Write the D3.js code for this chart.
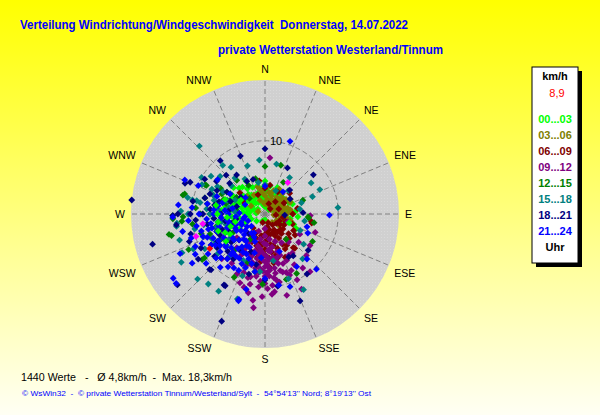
<!DOCTYPE html>
<html>
<head>
<meta charset="utf-8">
<script src="https://cdn.jsdelivr.net/npm/d3@7"></script>
<style>
  body { margin: 0; }
  svg { display: block; font-family: Arial, "Liberation Sans", sans-serif; }
</style>
</head>
<body>
<div id="chart"></div>
<script>
// texts
const title = "Verteilung Windrichtung/Windgeschwindigkeit  Donnerstag, 14.07.2022";
const subtitle = "private Wetterstation Westerland/Tinnum";
const statsLine = "1440 Werte   -   \u00D8 4,8km/h  -  Max. 18,3km/h";
const footer = "\u00A9 WsWin32  -  \u00A9 private Wetterstation Tinnum/Westerland/Sylt  -  54\u00B054'13'' Nord; 8\u00B019'13'' Ost";

// scale / categories
const maxSpeed = 18.3;
const ringValues = [10];
const directions = ["N","NNE","NE","ENE","E","ESE","SE","SSE","S","SSW","SW","WSW","W","WNW","NW","NNW"];
const timeBins = ["00...03","03...06","06...09","09...12","12...15","15...18","18...21","21...24"];
const binColors = ["#00ff00","#808000","#800000","#800080","#008000","#008080","#000080","#0000ff"];
const currentSpeedLabel = "8,9";

// values [direction deg, speed km/h]
const pts0003 = [[0,1.0],[15,1.5],[30,2.0],[350,2.2],[330,1.8],[310,2.5],[290,3.0],[280,4.0],[270,5.0],[300,4.5],[320,3.5],[340,3.0],[5,3.2],[20,2.8],[45,2.5],[60,3.0],[75,2.0],[90,1.5],[100,3.5],[110,4.2],[120,2.5],[260,3.5],[250,2.0],[240,4.0],[275,6.0],[285,5.5],[295,3.8],[305,1.2],[325,4.2],[345,4.0],[10,2.3],[35,3.5],[50,1.5],[65,3.6],[80,3.0],[95,4.5],[115,4.7],[270,2.5],[255,5.5],[290,1.5],[315,5.0],[335,2.6],[355,3.6],[25,4.0],[40,0.8],[200,1.0],[180,0.8],[230,1.5],[265,4.5],[280,2.0],[300,3.0],[330,5.2],[0,4.5],[300,6.0],[285,3.3],[310,4.0],[320,2.0],[350,1.2],[70,4.0],[85,4.2],
  [340,1.8],[20,1.0],[60,1.2],[300,2.0],[275,3.0],[285,4.5],[260,4.0],[250,3.0],[310,3.0],[325,2.6],[350,2.8],[10,3.8],[30,3.0],[45,3.3],[55,2.2],[90,2.5],[105,2.8],[270,3.8],[295,5.0],[280,5.5],
  [285,2.5],[295,2.2],[305,3.5],[315,2.2],[325,3.2],[335,4.0],[345,2.4],[355,2.0],[5,1.8],[15,2.5],[265,2.2],[255,3.2],[245,3.0],[275,4.8],[290,4.2],[300,5.2],[310,5.6],[320,4.8],[275,1.2],[0,3.0]];
const pts0306 = [[45,2.0],[60,2.5],[75,2.8],[90,2.6],[30,1.8],[50,3.2],[70,1.5],[85,3.5],[100,2.2],[20,2.6],[10,3.0],[0,2.5],[350,3.3],[340,2.0],[330,3.0],[315,3.4],[40,3.6],[55,1.0],[65,3.8],[80,2.0],[95,1.2],[110,2.8],[120,1.8],[25,1.2],[35,2.8],[15,1.8],[5,3.8],[355,1.5],[345,3.8],[60,2.0],[75,3.2],[90,3.0],[105,3.6],[130,2.5],[140,1.5],[160,1.2],[300,2.2],[290,1.0],[45,1.2],[80,2.5],
  [50,2.4],[65,2.2],[35,2.2],[20,3.4],[70,2.8],[85,1.8],[100,3.0],[115,2.0],[55,3.5],[40,1.6],[10,2.0],[0,1.4],[355,2.8],[30,3.9],[60,4.0],
  [45,2.9],[55,1.8],[75,2.3],[80,3.5],[95,2.0],[65,1.6],[25,2.2],[15,2.9],[30,1.4],[50,2.8]];
const pts0609 = [[180,2.0],[170,3.0],[160,4.0],[150,2.5],[175,5.0],[165,5.8],[155,6.5],[185,4.2],[190,3.0],[140,3.5],[130,2.0],[120,3.0],[110,4.0],[100,2.5],[90,3.8],[80,4.5],[60,3.0],[50,4.4],[40,2.2],[30,3.5],[20,1.5],[10,4.0],[0,3.5],[350,4.6],[340,2.8],[300,3.5],[310,4.5],[200,5.5],[198,6.1],[210,3.5],[220,2.5],[195,1.2],[160,1.3],[145,5.2],[135,4.7],[125,5.0],[101,6.5],[99,6.4],[140,6.0],[139,6.2],[170,6.8],[175,7.3],[185,6.5],[165,4.5],[150,3.8],[115,2.2],[95,1.5],[70,2.0],[45,1.0],[190,5.0],[205,4.2],[180,5.6],[155,2.8],[145,1.8],[130,4.2],
  [165,2.2],[175,3.6],[185,3.0],[160,5.0],[150,5.5],[170,4.2],[180,4.8],[190,4.0],[200,3.5],[140,4.5],[120,4.5],[110,3.0],[130,3.2],[175,6.0],[165,6.3],
  [155,3.3],[170,5.3],[180,3.8],[185,5.5],[175,2.5],[160,2.8],[145,3.0],[195,4.5],[205,2.8],[190,6.0],[150,4.8],[170,1.8],[215,4.5],[135,3.0],[125,2.5]];
const pts0912 = [[175,5.0],[170,6.0],[180,6.5],[165,7.0],[185,7.5],[178,8.0],[172,8.8],[160,6.0],[168,4.6],[182,4.0],[190,5.5],[195,6.8],[200,7.5],[193,8.8],[196,10.4],[188,11.9],[187,12.9],[174,9.8],[173,10.7],[154,10.0],[154,11.4],[142,10.0],[150,8.0],[155,7.0],[145,6.5],[140,5.0],[130,6.0],[120,5.5],[110,7.3],[109,3.3],[92,6.2],[5,7.7],[214,8.1],[224,8.5],[210,6.5],[205,5.0],[200,4.0],[190,3.5],[180,3.0],[170,3.5],[160,4.0],[150,4.5],[178,5.8],[183,6.3],[188,7.0],[176,7.3],[163,8.3],[158,9.0],[168,9.5],[184,9.2],[192,9.8],[205,9.0],[215,7.0],[220,6.0],[175,11.0],[165,11.5],[135,8.0],[125,7.5],[145,9.0],[180,2.0],[200,2.5],[170,8.2],[186,5.1],[162,5.4],[192,4.5],[198,6.0],[210,4.5],[230,5.0],[240,6.5],[250,4.5],[235,7.5],[177,4.2],
  [172,5.2],[178,6.8],[182,7.8],[168,6.5],[176,8.5],[186,8.0],[190,6.2],[195,7.2],[160,7.2],[165,8.0],[170,9.2],[180,9.5],[185,10.0],[195,9.0],[200,8.5],[205,6.0],[175,7.7],[182,5.5],[188,4.8],[172,4.8],
  [170,7.5],[180,7.2],[190,7.5],[175,6.3],[165,6.2],[185,5.8],[195,5.2],[200,5.8],[210,5.5],[220,7.5],[180,8.5],[170,10.0],[160,8.5],[188,8.6],[178,10.2],[150,6.5],[155,8.5],[200,10.0],[192,11.0],[182,11.3]];
const pts1215 = [[283,11.5],[296,9.1],[258,13.4],[206,9.6],[162,9.4],[152,9.2],[94,5.9],[265,11.4],[269,12.6],[253,9.1],[234,10.6],[182,9.6],[257,13.1],[234,10.2],[296,8.9],[284,11.3],[268,11.2],[267,12.6],[289,6.0],[290,5.2],[315,3.0],[300,7.0],[280,8.0],[270,7.5],[260,6.5],[250,8.0],[240,7.0],[230,5.5],[220,6.5],[210,4.0],[300,4.5],[320,6.0],[330,4.5],[345,5.0],[0,6.5],[30,5.0],[70,5.5],[100,6.8],[120,7.5],[140,4.5],[190,8.0],[200,7.0],[275,9.5],[285,8.5],[245,11.5],[262,10.0],[278,4.0],[255,4.5],[95,6.0],[18,7.0],
  [275,6.5],[265,6.0],[285,5.5],[295,6.5],[255,7.0],[245,6.0],[240,5.0],
  [280,6.8],[270,8.8],[260,8.0],[290,7.5],[250,6.5],[235,8.0],[300,5.5]];
const pts1518 = [[316,12.9],[354,7.4],[13,7.0],[85,10.0],[70,6.9],[66,8.2],[56,7.6],[34,6.0],[319,8.8],[324,7.9],[282,10.8],[281,10.1],[264,12.1],[240,13.2],[226,12.8],[211,12.3],[198,12.2],[153,11.6],[115,5.3],[73,5.2],[262,12.2],[298,6.5],[320,6.4],[348,4.4],[219,12.3],[253,12.2],[244,10.9],[82,4.8],[128,6.7],[160,9.4],[185,7.9],[281,9.5],[270,10.5],[275,8.0],[290,7.5],[305,9.0],[310,6.0],[295,4.5],[260,8.5],[250,7.0],[240,9.5],[230,8.5],[220,7.5],[215,5.5],[235,6.0],[255,5.5],[265,7.0],[285,6.0],[300,10.0],[330,5.5],[340,7.0],[0,4.0],[25,3.5],[45,4.5],[100,5.5],[140,8.0],[170,6.5],[200,9.0],[205,7.0],[245,12.5],[272,11.5],[258,9.8],
  [265,5.0],[275,6.5],[285,7.2],[295,8.0],[255,6.8],[245,8.0],[280,5.0],[300,7.5],
  [290,5.5],[270,7.5],[260,6.0],[250,9.0],[240,7.8],[230,6.8],[310,8.0],[280,9.0],[295,9.5],[275,4.2]];
const pts1821 = [[276,18.3],[0,8.9],[337,8.6],[26,7.0],[51,8.5],[158,12.8],[202,15.8],[255,15.9],[293,11.1],[291,11.7],[304,8.0],[311,6.4],[324,6.6],[331,5.1],[341,5.0],[296,7.3],[269,12.6],[270,11.9],[263,12.2],[231,15.4],[209,11.2],[242,9.9],[224,10.6],[236,11.0],[46,4.7],[93,2.7],[130,7.7],[146,6.9],[145,10.0],[151,6.7],[88,5.2],[59,4.0],[210,11.2],[225,10.7],[280,10.0],[285,8.5],[300,9.5],[315,7.5],[250,7.0],[260,8.0],[245,5.5],[235,6.5],[225,5.0],[215,7.5],[270,6.0],[275,7.5],[290,5.0],[305,4.0],[255,10.5],[240,8.5],[230,9.0],[265,9.5],[285,4.0],[200,5.5],[190,7.0],[180,9.0],[170,10.0],[220,3.5],[260,4.0],[300,6.0],[320,9.5],[195,8.5],
  [250,6.2],[260,5.5],[270,8.5],[280,7.0],[240,7.5],[230,6.0],[220,8.0],[265,7.0],
  [255,4.8],[245,6.8],[235,8.0],[225,7.2],[215,6.0],[275,5.0],[285,6.5],[290,8.0],[270,10.2],[250,11.0]];
const pts2124 = [[276,11.9],[268,12.6],[252,10.6],[245,12.8],[232,15.4],[235,15.3],[236,12.0],[293,11.9],[293,9.9],[306,8.0],[19,10.5],[91,8.8],[137,10.3],[137,8.4],[161,10.5],[114,6.4],[197,12.2],[0,3.8],[39,3.9],[107,6.0],[149,8.4],[159,5.5],[194,10.6],[180,8.8],[169,9.9],[197,12.4],
  [200,4.0],[205,5.0],[210,6.0],[215,7.0],[220,8.0],[225,6.5],[230,5.5],[235,7.5],[240,8.5],[245,6.0],[250,7.0],[255,5.0],[260,6.5],[265,8.0],[270,7.0],[275,5.5],[280,4.5],[285,6.0],[250,9.0],[240,4.5],[230,3.5],[220,4.5],[210,3.0],[215,5.5],[225,8.5],[235,9.5],[245,9.5],[255,8.0],[260,9.5],[270,9.0],[265,4.0],[250,3.5],[235,4.0],[220,9.5],[210,8.5],[205,7.5],[200,6.5],[195,5.5],[190,8.0],[185,6.0],[275,10.0],[280,8.0],[290,7.0],[300,5.5],[310,3.5],[240,11.0],[230,10.5],[258,11.5],[248,2.5],[228,2.5],[262,2.8],[272,3.5],[295,3.0],[245,7.8],[232,6.8],[218,6.0],
  [215,4.5],[225,5.0],[235,5.5],[245,4.5],[255,6.5],[265,6.0],[275,7.0],[240,6.5],[230,7.0],[220,6.8],[210,5.0],[205,6.0],[250,5.5],[260,7.5],[270,5.0],[280,6.5],[238,8.0],[228,9.0],[248,8.5],[258,3.0],
  [205,3.5],[215,3.2],[225,4.0],[235,3.0],[245,3.5],[250,4.2],[260,5.2],[270,6.2],[255,7.5],[240,7.3],[230,8.0],[220,7.2],[210,7.0],[200,7.8],[195,7.0],[205,8.5],[215,8.8],[245,10.5],[255,9.0],[265,10.5]];
// bright-green minutes that stay visible west of the core
const pts0003Late = [[250,5.0],[245,6.0],[260,6.5],[240,5.5],[255,4.2],[265,5.2],[235,6.5],[250,6.8],[270,6.5],[280,6.8],[290,5.8],[300,3.8],[110,3.5]];
const highlightPts = [[261,8.6],[252,9.9],[36,5.3]];
const currentPt = [238, 8.9];

const series = [pts0003, pts0306, pts0609, pts0912, pts1215, pts1518, pts1821, pts2124];

// layout
const W = 600, H = 415;
const cx = 265, cy = 214, R = 134;

const svg = d3.select("#chart").append("svg").attr("width", W).attr("height", H);

const defs = svg.append("defs");
const grad = defs.append("linearGradient").attr("id", "bg").attr("x1", 0).attr("y1", 0).attr("x2", 0).attr("y2", 1);
grad.append("stop").attr("offset", "0%").attr("stop-color", "#ffff00");
grad.append("stop").attr("offset", "100%").attr("stop-color", "#fffff4");
const pat = defs.append("pattern").attr("id", "dots").attr("width", 3).attr("height", 3).attr("patternUnits", "userSpaceOnUse");
pat.append("rect").attr("width", 3).attr("height", 3).attr("fill", "#d0d0d0");
pat.append("rect").attr("width", 1).attr("height", 1).attr("fill", "#d9d9d9");

svg.append("rect").attr("width", W).attr("height", H).attr("fill", "url(#bg)");

// titles
svg.append("text").attr("x", 20).attr("y", 29).attr("fill", "#0000ff").attr("font-weight", "bold")
  .attr("font-size", 12).attr("textLength", 388).attr("lengthAdjust", "spacingAndGlyphs")
  .style("white-space", "pre").text(title);
svg.append("text").attr("x", 218).attr("y", 54).attr("fill", "#0000ff").attr("font-weight", "bold")
  .attr("font-size", 12).attr("textLength", 225).attr("lengthAdjust", "spacingAndGlyphs").text(subtitle);

// scales
const r = d3.scaleLinear().domain([0, maxSpeed]).range([0, R]);
const a = d3.scaleLinear().domain([0, 360]).range([0, 2 * Math.PI]);
const px = d => cx + r(d[1]) * Math.sin(a(d[0]));
const py = d => cy - r(d[1]) * Math.cos(a(d[0]));

const g = svg.append("g");
g.append("circle").attr("cx", cx).attr("cy", cy).attr("r", R).attr("fill", "url(#dots)");

// radial grid
g.selectAll(".spoke").data(directions).join("line").attr("class", "spoke")
  .attr("x1", cx).attr("y1", cy)
  .attr("x2", (d, i) => px([i * 22.5, maxSpeed]))
  .attr("y2", (d, i) => py([i * 22.5, maxSpeed]))
  .attr("stroke", "#808080").attr("stroke-dasharray", "5,3");

g.selectAll(".ring").data(ringValues).join("circle").attr("class", "ring")
  .attr("cx", cx).attr("cy", cy).attr("r", d => r(d))
  .attr("fill", "none").attr("stroke", "#808080").attr("stroke-dasharray", "5,3");

g.selectAll(".ringLabel").data(ringValues).join("text").attr("class", "ringLabel")
  .attr("x", cx + 11).attr("y", d => cy - r(d) + 4).attr("text-anchor", "middle")
  .attr("font-size", 11).text(d => d);

// direction labels
const labelR = 140;
svg.selectAll(".dirLabel").data(directions).join("text").attr("class", "dirLabel")
  .attr("x", (d, i) => cx + labelR * Math.sin(a(i * 22.5)))
  .attr("y", (d, i) => cy - labelR * Math.cos(a(i * 22.5)))
  .attr("dy", (d, i) => { const k = i * 22.5; return (k === 90 || k === 270) ? 4 : (k < 90 || k > 270) ? -1 : 9; })
  .attr("text-anchor", (d, i) => { const k = i * 22.5; return (k === 0 || k === 180) ? "middle" : k < 180 ? "start" : "end"; })
  .attr("font-size", 10.5).attr("fill", "#000").text(d => d);

// points
const diamond = "M0,-3.4L3.4,0L0,3.4L-3.4,0Z";
function drawPts(pts, color) {
  g.append("g").selectAll("path").data(pts).join("path")
    .attr("d", diamond)
    .attr("transform", d => `translate(${px(d)},${py(d)})`)
    .attr("fill", color);
}
series.forEach((pts, i) => drawPts(pts, binColors[i]));
drawPts(pts0003Late, binColors[0]);
drawPts(highlightPts, "#ff00ff");
drawPts([currentPt], "#ff0000");

// legend
const lg = svg.append("g");
lg.append("rect").attr("x", 536).attr("y", 71).attr("width", 46).attr("height", 196).attr("fill", "#000");
lg.append("rect").attr("x", 532).attr("y", 67).attr("width", 46).attr("height", 196)
  .attr("fill", "#fff").attr("stroke", "#000");
const lx = 555;
lg.append("text").attr("x", lx).attr("y", 80).attr("text-anchor", "middle").attr("font-weight", "bold")
  .attr("font-size", 11).text("km/h");
lg.append("text").attr("x", lx + 2).attr("y", 97).attr("text-anchor", "middle")
  .attr("font-size", 11).attr("fill", "#ff0000").text(currentSpeedLabel);
lg.selectAll(".bin").data(timeBins).join("text").attr("class", "bin")
  .attr("x", lx).attr("y", (d, i) => 122.7 + i * 16).attr("text-anchor", "middle")
  .attr("font-weight", "bold").attr("font-size", 11).attr("fill", (d, i) => binColors[i]).text(d => d);
lg.append("text").attr("x", lx).attr("y", 250.5).attr("text-anchor", "middle").attr("font-weight", "bold")
  .attr("font-size", 11).text("Uhr");

// bottom texts
svg.append("text").attr("x", 21).attr("y", 381).attr("font-size", 10.5).attr("fill", "#000")
  .attr("textLength", 211).attr("lengthAdjust", "spacingAndGlyphs").style("white-space", "pre").text(statsLine);
svg.append("text").attr("x", 22).attr("y", 396).attr("font-size", 7.5).attr("fill", "#0000ff")
  .attr("textLength", 349).attr("lengthAdjust", "spacingAndGlyphs").style("white-space", "pre").text(footer);
</script>
</body>
</html>
